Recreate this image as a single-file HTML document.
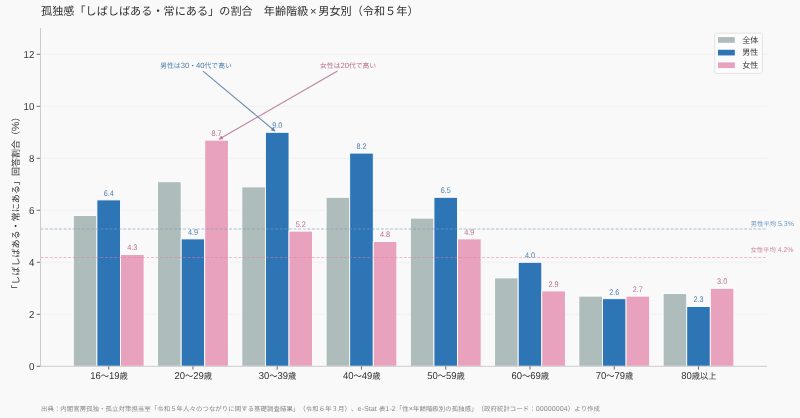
<!DOCTYPE html>
<html lang="ja"><head><meta charset="utf-8"><style>
html,body{margin:0;padding:0;background:#f9f9f9;}
svg{display:block;font-family:"Liberation Sans", "Noto Sans CJK JP", sans-serif;text-spacing-trim:space-all;will-change:transform;text-rendering:geometricPrecision;}
</style></head><body>
<svg width="800" height="418" viewBox="0 0 800 418">
<rect x="0" y="0" width="800" height="418" fill="#f9f9f9"/>
<line x1="40.5" x2="767" y1="314.30" y2="314.30" stroke="#eeeeee" stroke-width="0.8"/>
<line x1="40.5" x2="767" y1="262.30" y2="262.30" stroke="#eeeeee" stroke-width="0.8"/>
<line x1="40.5" x2="767" y1="210.30" y2="210.30" stroke="#eeeeee" stroke-width="0.8"/>
<line x1="40.5" x2="767" y1="158.30" y2="158.30" stroke="#eeeeee" stroke-width="0.8"/>
<line x1="40.5" x2="767" y1="106.30" y2="106.30" stroke="#eeeeee" stroke-width="0.8"/>
<line x1="40.5" x2="767" y1="54.30" y2="54.30" stroke="#eeeeee" stroke-width="0.8"/>
<rect x="73.30" y="215.50" width="23.60" height="150.80" fill="#afbcbc" stroke="#fff" stroke-width="0.9"/>
<rect x="96.90" y="199.90" width="23.60" height="166.40" fill="#2e75b6" stroke="#fff" stroke-width="0.9"/>
<rect x="120.50" y="254.50" width="23.60" height="111.80" fill="#e8a2bd" stroke="#fff" stroke-width="0.9"/>
<rect x="157.56" y="181.70" width="23.60" height="184.60" fill="#afbcbc" stroke="#fff" stroke-width="0.9"/>
<rect x="181.16" y="238.90" width="23.60" height="127.40" fill="#2e75b6" stroke="#fff" stroke-width="0.9"/>
<rect x="204.76" y="140.10" width="23.60" height="226.20" fill="#e8a2bd" stroke="#fff" stroke-width="0.9"/>
<rect x="241.82" y="186.90" width="23.60" height="179.40" fill="#afbcbc" stroke="#fff" stroke-width="0.9"/>
<rect x="265.42" y="132.30" width="23.60" height="234.00" fill="#2e75b6" stroke="#fff" stroke-width="0.9"/>
<rect x="289.02" y="231.10" width="23.60" height="135.20" fill="#e8a2bd" stroke="#fff" stroke-width="0.9"/>
<rect x="326.08" y="197.30" width="23.60" height="169.00" fill="#afbcbc" stroke="#fff" stroke-width="0.9"/>
<rect x="349.68" y="153.10" width="23.60" height="213.20" fill="#2e75b6" stroke="#fff" stroke-width="0.9"/>
<rect x="373.28" y="241.50" width="23.60" height="124.80" fill="#e8a2bd" stroke="#fff" stroke-width="0.9"/>
<rect x="410.34" y="218.10" width="23.60" height="148.20" fill="#afbcbc" stroke="#fff" stroke-width="0.9"/>
<rect x="433.94" y="197.30" width="23.60" height="169.00" fill="#2e75b6" stroke="#fff" stroke-width="0.9"/>
<rect x="457.54" y="238.90" width="23.60" height="127.40" fill="#e8a2bd" stroke="#fff" stroke-width="0.9"/>
<rect x="494.60" y="277.90" width="23.60" height="88.40" fill="#afbcbc" stroke="#fff" stroke-width="0.9"/>
<rect x="518.20" y="262.30" width="23.60" height="104.00" fill="#2e75b6" stroke="#fff" stroke-width="0.9"/>
<rect x="541.80" y="290.90" width="23.60" height="75.40" fill="#e8a2bd" stroke="#fff" stroke-width="0.9"/>
<rect x="578.86" y="296.10" width="23.60" height="70.20" fill="#afbcbc" stroke="#fff" stroke-width="0.9"/>
<rect x="602.46" y="298.70" width="23.60" height="67.60" fill="#2e75b6" stroke="#fff" stroke-width="0.9"/>
<rect x="626.06" y="296.10" width="23.60" height="70.20" fill="#e8a2bd" stroke="#fff" stroke-width="0.9"/>
<rect x="663.12" y="293.50" width="23.60" height="72.80" fill="#afbcbc" stroke="#fff" stroke-width="0.9"/>
<rect x="686.72" y="306.50" width="23.60" height="59.80" fill="#2e75b6" stroke="#fff" stroke-width="0.9"/>
<rect x="710.32" y="288.30" width="23.60" height="78.00" fill="#e8a2bd" stroke="#fff" stroke-width="0.9"/>
<line x1="40.5" x2="767" y1="228.95" y2="228.95" stroke="#7d9fc0" stroke-opacity="0.62" stroke-width="1.1" stroke-dasharray="3,1.6"/>
<line x1="40.5" x2="767" y1="257.55" y2="257.55" stroke="#e07fa3" stroke-opacity="0.5" stroke-width="1.1" stroke-dasharray="3,1.6"/>
<text id="val_0" transform="translate(108.70,195.70) scale(0.9000,1)" font-size="8.1" fill="#4f80ad" text-anchor="middle">6.4</text>
<text id="valf_0" transform="translate(132.30,250.30) scale(0.9000,1)" font-size="8.1" fill="#b96e8e" text-anchor="middle">4.3</text>
<text id="val_1" transform="translate(192.96,234.70) scale(0.9000,1)" font-size="8.1" fill="#4f80ad" text-anchor="middle">4.9</text>
<text id="valf_1" transform="translate(216.56,135.90) scale(0.9000,1)" font-size="8.1" fill="#b96e8e" text-anchor="middle">8.7</text>
<text id="val_2" transform="translate(277.22,128.10) scale(0.9000,1)" font-size="8.1" fill="#4f80ad" text-anchor="middle">9.0</text>
<text id="valf_2" transform="translate(300.82,226.90) scale(0.9000,1)" font-size="8.1" fill="#b96e8e" text-anchor="middle">5.2</text>
<text id="val_3" transform="translate(361.48,148.90) scale(0.9000,1)" font-size="8.1" fill="#4f80ad" text-anchor="middle">8.2</text>
<text id="valf_3" transform="translate(385.08,237.30) scale(0.9000,1)" font-size="8.1" fill="#b96e8e" text-anchor="middle">4.8</text>
<text id="val_4" transform="translate(445.74,193.10) scale(0.9000,1)" font-size="8.1" fill="#4f80ad" text-anchor="middle">6.5</text>
<text id="valf_4" transform="translate(469.34,234.70) scale(0.9000,1)" font-size="8.1" fill="#b96e8e" text-anchor="middle">4.9</text>
<text id="val_5" transform="translate(530.00,258.10) scale(0.9000,1)" font-size="8.1" fill="#4f80ad" text-anchor="middle">4.0</text>
<text id="valf_5" transform="translate(553.60,286.70) scale(0.9000,1)" font-size="8.1" fill="#b96e8e" text-anchor="middle">2.9</text>
<text id="val_6" transform="translate(614.26,294.50) scale(0.9000,1)" font-size="8.1" fill="#4f80ad" text-anchor="middle">2.6</text>
<text id="valf_6" transform="translate(637.86,291.90) scale(0.9000,1)" font-size="8.1" fill="#b96e8e" text-anchor="middle">2.7</text>
<text id="val_7" transform="translate(698.52,302.30) scale(0.9000,1)" font-size="8.1" fill="#4f80ad" text-anchor="middle">2.3</text>
<text id="valf_7" transform="translate(722.12,284.10) scale(0.9000,1)" font-size="8.1" fill="#b96e8e" text-anchor="middle">3.0</text>
<line x1="40.5" x2="40.5" y1="28" y2="366.80" stroke="#cccccc" stroke-width="1"/>
<line x1="40" x2="767" y1="366.30" y2="366.30" stroke="#cccccc" stroke-width="1"/>
<line x1="36.70" x2="40" y1="366.30" y2="366.30" stroke="#4a4a4a" stroke-width="0.8"/>
<text id="ytick_0" transform="translate(34.40,370.30) scale(0.9500,1)" font-size="10.2" fill="#333" text-anchor="end">0</text>
<line x1="36.70" x2="40" y1="314.30" y2="314.30" stroke="#4a4a4a" stroke-width="0.8"/>
<text id="ytick_2" transform="translate(34.40,318.30) scale(0.9500,1)" font-size="10.2" fill="#333" text-anchor="end">2</text>
<line x1="36.70" x2="40" y1="262.30" y2="262.30" stroke="#4a4a4a" stroke-width="0.8"/>
<text id="ytick_4" transform="translate(34.40,266.30) scale(0.9500,1)" font-size="10.2" fill="#333" text-anchor="end">4</text>
<line x1="36.70" x2="40" y1="210.30" y2="210.30" stroke="#4a4a4a" stroke-width="0.8"/>
<text id="ytick_6" transform="translate(34.40,214.30) scale(0.9500,1)" font-size="10.2" fill="#333" text-anchor="end">6</text>
<line x1="36.70" x2="40" y1="158.30" y2="158.30" stroke="#4a4a4a" stroke-width="0.8"/>
<text id="ytick_8" transform="translate(34.40,162.30) scale(0.9500,1)" font-size="10.2" fill="#333" text-anchor="end">8</text>
<line x1="36.70" x2="40" y1="106.30" y2="106.30" stroke="#4a4a4a" stroke-width="0.8"/>
<text id="ytick_10" transform="translate(34.40,110.30) scale(0.9500,1)" font-size="10.2" fill="#333" text-anchor="end">10</text>
<line x1="36.70" x2="40" y1="54.30" y2="54.30" stroke="#4a4a4a" stroke-width="0.8"/>
<text id="ytick_12" transform="translate(34.40,58.30) scale(0.9500,1)" font-size="10.2" fill="#333" text-anchor="end">12</text>
<line x1="108.70" x2="108.70" y1="366.30" y2="369.60" stroke="#4a4a4a" stroke-width="0.8"/>
<text id="xtick_0" transform="translate(109.00,378.80) scale(0.9600,1)" font-size="8.6" fill="#333" text-anchor="middle"><tspan font-size="9.9">16</tspan>〜<tspan font-size="9.9">19</tspan>歳</text>
<line x1="192.96" x2="192.96" y1="366.30" y2="369.60" stroke="#4a4a4a" stroke-width="0.8"/>
<text id="xtick_1" transform="translate(193.26,378.80) scale(0.9600,1)" font-size="8.6" fill="#333" text-anchor="middle"><tspan font-size="9.9">20</tspan>〜<tspan font-size="9.9">29</tspan>歳</text>
<line x1="277.22" x2="277.22" y1="366.30" y2="369.60" stroke="#4a4a4a" stroke-width="0.8"/>
<text id="xtick_2" transform="translate(277.52,378.80) scale(0.9600,1)" font-size="8.6" fill="#333" text-anchor="middle"><tspan font-size="9.9">30</tspan>〜<tspan font-size="9.9">39</tspan>歳</text>
<line x1="361.48" x2="361.48" y1="366.30" y2="369.60" stroke="#4a4a4a" stroke-width="0.8"/>
<text id="xtick_3" transform="translate(361.78,378.80) scale(0.9600,1)" font-size="8.6" fill="#333" text-anchor="middle"><tspan font-size="9.9">40</tspan>〜<tspan font-size="9.9">49</tspan>歳</text>
<line x1="445.74" x2="445.74" y1="366.30" y2="369.60" stroke="#4a4a4a" stroke-width="0.8"/>
<text id="xtick_4" transform="translate(446.04,378.80) scale(0.9600,1)" font-size="8.6" fill="#333" text-anchor="middle"><tspan font-size="9.9">50</tspan>〜<tspan font-size="9.9">59</tspan>歳</text>
<line x1="530.00" x2="530.00" y1="366.30" y2="369.60" stroke="#4a4a4a" stroke-width="0.8"/>
<text id="xtick_5" transform="translate(530.30,378.80) scale(0.9600,1)" font-size="8.6" fill="#333" text-anchor="middle"><tspan font-size="9.9">60</tspan>〜<tspan font-size="9.9">69</tspan>歳</text>
<line x1="614.26" x2="614.26" y1="366.30" y2="369.60" stroke="#4a4a4a" stroke-width="0.8"/>
<text id="xtick_6" transform="translate(614.56,378.80) scale(0.9600,1)" font-size="8.6" fill="#333" text-anchor="middle"><tspan font-size="9.9">70</tspan>〜<tspan font-size="9.9">79</tspan>歳</text>
<line x1="698.52" x2="698.52" y1="366.30" y2="369.60" stroke="#4a4a4a" stroke-width="0.8"/>
<text id="xtick_7" transform="translate(698.82,378.80) scale(0.9600,1)" font-size="8.6" fill="#333" text-anchor="middle"><tspan font-size="9.9">80</tspan>歳以上</text>
<text id="ylabel" transform="translate(19.00,203.10) rotate(-90)" font-size="9.05" fill="#333" text-anchor="middle">「しばしばある・常にある」回答割合（<tspan font-size="10.5">%</tspan>）</text>
<text id="title" transform="translate(41.00,15.00)" font-size="11.15" fill="#2e2e2e" text-anchor="start">孤独感「しばしばある・常にある」の割合　年齢階級<tspan dx="1.6">×</tspan><tspan dx="1.8">男</tspan>女別（令和５年）</text>
<text id="avgm" transform="translate(793.90,225.60)" font-size="6.3" fill="#6b98c4" text-anchor="end">男性平均<tspan font-size="7.0"> 5.3%</tspan></text>
<text id="avgf" transform="translate(793.60,251.90)" font-size="6.3" fill="#c98aa3" text-anchor="end">女性平均<tspan font-size="7.0"> 4.2%</tspan></text>
<text id="annm" transform="translate(196.00,68.40)" font-size="6.8" fill="#4f80ad" text-anchor="middle">男性は<tspan font-size="7.7">30</tspan>・<tspan font-size="7.7">40</tspan>代で高い</text>
<text id="annf" transform="translate(348.10,68.20)" font-size="6.8" fill="#b96e8e" text-anchor="middle">女性は<tspan font-size="7.7">20</tspan>代で高い</text>
<g stroke="#4d7aa4" stroke-opacity="0.85" fill="#4d7aa4" fill-opacity="0.85" stroke-width="1.1" stroke-linecap="butt" stroke-linejoin="miter"><line x1="203" y1="71.2" x2="273.10" y2="129.54"/><polygon stroke-width="0.5" points="271.25,130.20 275.1,131.2 273.42,127.59"/></g>
<g stroke="#b56d8f" stroke-opacity="0.85" fill="#b56d8f" fill-opacity="0.85" stroke-width="1.1" stroke-linecap="butt" stroke-linejoin="miter"><line x1="337.5" y1="71" x2="221.15" y2="138.00"/><polygon stroke-width="0.5" points="221.17,136.03 218.9,139.3 222.87,138.98"/></g>
<rect x="714.8" y="33.2" width="47.5" height="40.2" rx="1.5" fill="#fdfdfd" stroke="#dddddd" stroke-width="0.8"/>
<rect x="718" y="37.10" width="16.8" height="5.7" fill="#afbcbc"/>
<text id="leg_0" transform="translate(742.30,42.60)" font-size="8" fill="#333" text-anchor="start">全体</text>
<rect x="718" y="49.75" width="16.8" height="5.7" fill="#2e75b6"/>
<text id="leg_1" transform="translate(742.30,55.25)" font-size="8" fill="#333" text-anchor="start">男性</text>
<rect x="718" y="62.40" width="16.8" height="5.7" fill="#e8a2bd"/>
<text id="leg_2" transform="translate(742.30,67.90)" font-size="8" fill="#333" text-anchor="start">女性</text>
<text id="src" transform="translate(41.00,410.50)" font-size="6.4" fill="#888" text-anchor="start" textLength="558.95" lengthAdjust="spacing">出典：内閣官房孤独・孤立対策担当室「令和５年人々のつながりに関する基礎調査結果」（令和６年３月）、<tspan font-size="7.1">e-Stat </tspan>表<tspan font-size="7.1">1-2</tspan>「性<tspan font-size="7.1">×</tspan>年齢階級別の孤独感」（政府統計コード：<tspan font-size="7.1">00000004</tspan>）より作成</text>
</svg>
</body></html>
